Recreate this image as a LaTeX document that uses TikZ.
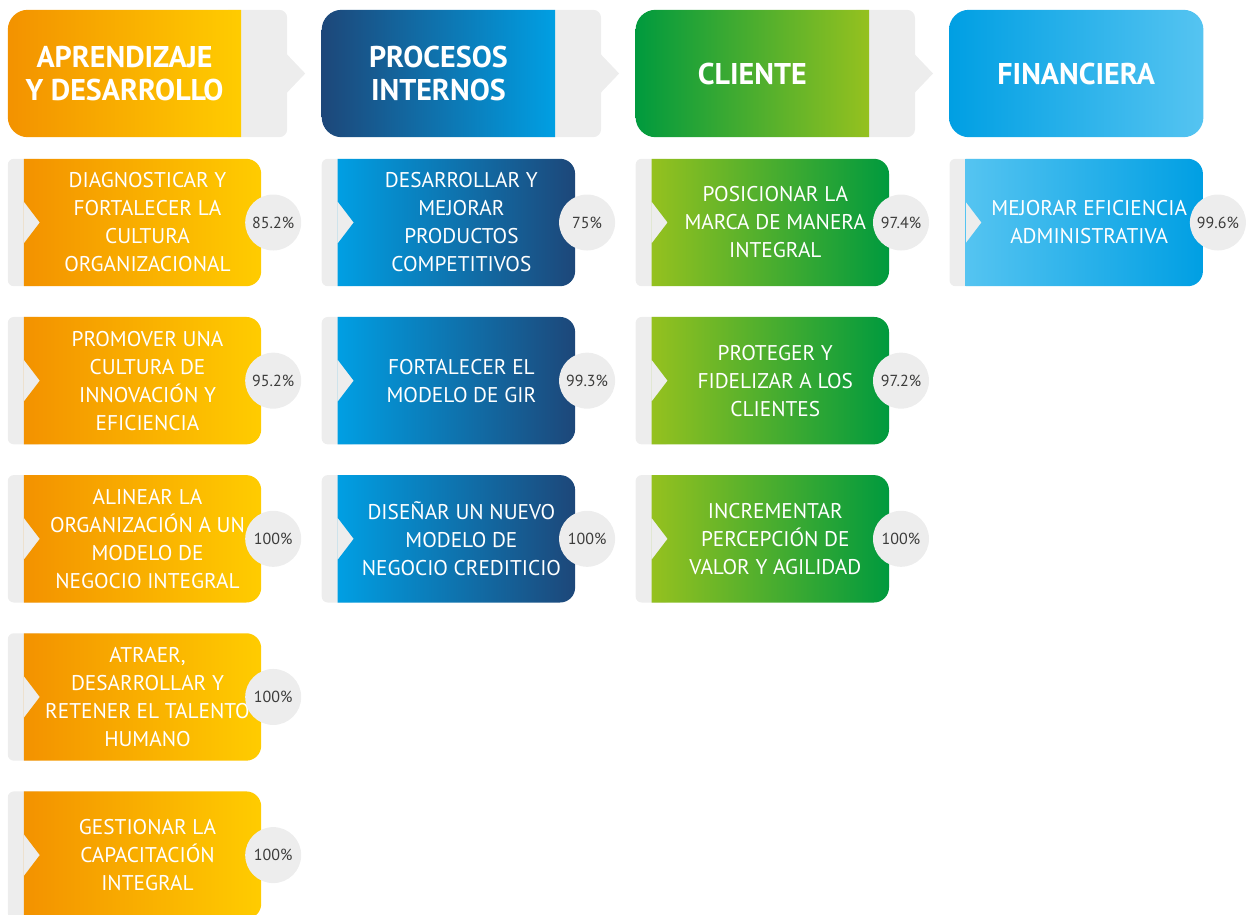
\documentclass[tikz,border=0pt]{standalone}
\usepackage{fontspec}
\setmainfont{PT Sans}
\usetikzlibrary{positioning,backgrounds}

\definecolor{orgL}{HTML}{F39200}
\definecolor{orgR}{HTML}{FFCC00}
\definecolor{navy}{HTML}{1D4779}
\definecolor{cyanB}{HTML}{009FE3}
\definecolor{grnD}{HTML}{009A3E}
\definecolor{grnL}{HTML}{95C11F}
\definecolor{skyL}{HTML}{55C4F1}
\definecolor{skyM}{HTML}{00B5EC}
\definecolor{skyD}{HTML}{009FE3}
\definecolor{greybg}{HTML}{EDEDED}
\definecolor{pctxt}{HTML}{3C3C3B}

\begin{document}
\begin{tikzpicture}[x=1pt,y=-1pt,node distance=30.75pt and 86.5pt,
    head/.style={minimum width=233pt,minimum height=127pt,inner sep=0pt,
      text=white,align=center,font=\bfseries\fontsize{30}{33}\selectfont},
    card/.style={minimum width=227pt,minimum height=127pt,inner sep=0pt,
      text=white,align=center,font=\fontsize{21.3}{28}\selectfont},
    pct/.style={circle,fill=greybg,minimum size=56pt,inner sep=0pt,
      text=pctxt,font=\fontsize{16}{16}\selectfont}]
  \useasboundingbox (0,0) rectangle (1248,914);

  % perspectivas
  \node[head] (h1) at (124.5,73.5) {APRENDIZAJE\\Y DESARROLLO};
  \node[head] (h2) [right=80.5pt of h1] {PROCESOS\\INTERNOS};
  \node[head] (h3) [right=80.5pt of h2] {CLIENTE};
  \node[head,minimum width=254pt] (h4) [right=80pt of h3] {FINANCIERA};

  % objetivos
  \node[card] (a1) at (147.5,222.5) {DIAGNOSTICAR Y\\FORTALECER LA\\CULTURA\\ORGANIZACIONAL};
  \node[card] (a2) [below=of a1] {PROMOVER UNA\\CULTURA DE\\INNOVACIÓN Y\\EFICIENCIA};
  \node[card] (a3) [below=of a2] {ALINEAR LA\\ORGANIZACIÓN A UN\\MODELO DE\\NEGOCIO INTEGRAL};
  \node[card] (a4) [below=of a3] {ATRAER,\\DESARROLLAR Y\\RETENER EL TALENTO\\HUMANO};
  \node[card] (a5) [below=of a4] {GESTIONAR LA\\CAPACITACIÓN\\INTEGRAL};
  \node[card] (b1) [right=of a1] {DESARROLLAR Y\\MEJORAR\\PRODUCTOS\\COMPETITIVOS};
  \node[card] (b2) [below=of b1] {FORTALECER EL\\MODELO DE GIR};
  \node[card] (b3) [below=of b2] {DISEÑAR UN NUEVO\\MODELO DE\\NEGOCIO CREDITICIO};
  \node[card] (c1) [right=of b1] {POSICIONAR LA\\MARCA DE MANERA\\INTEGRAL};
  \node[card] (c2) [below=of c1] {PROTEGER Y\\FIDELIZAR A LOS\\CLIENTES};
  \node[card] (c3) [below=of c2] {INCREMENTAR\\PERCEPCIÓN DE\\VALOR Y AGILIDAD};
  \node[card] (d1) [right=of c1] {MEJORAR EFICIENCIA\\ADMINISTRATIVA};

  % cumplimiento
  \node[pct] (pa1) at ([xshift=12pt]a1.east) {85.2\%};
  \node[pct] (pa2) at ([xshift=12pt]a2.east) {95.2\%};
  \node[pct] (pa3) at ([xshift=12pt]a3.east) {100\%};
  \node[pct] (pa4) at ([xshift=12pt]a4.east) {100\%};
  \node[pct] (pa5) at ([xshift=12pt]a5.east) {100\%};
  \node[pct] (pb1) at ([xshift=12pt]b1.east) {75\%};
  \node[pct] (pb2) at ([xshift=12pt]b2.east) {99.3\%};
  \node[pct] (pb3) at ([xshift=12pt]b3.east) {100\%};
  \node[pct] (pc1) at ([xshift=12pt]c1.east) {97.4\%};
  \node[pct] (pc2) at ([xshift=12pt]c2.east) {97.2\%};
  \node[pct] (pc3) at ([xshift=12pt]c3.east) {100\%};
  \node[pct] (pd1) at ([xshift=15pt]d1.east) {99.6\%};

  \begin{scope}[on background layer]
    \foreach \n/\cl/\cm/\cr in {h1/orgL/orgL!50!orgR/orgR,h2/navy/navy!50!cyanB/cyanB,
        h3/grnD/grnD/grnL} {
      \fill[greybg,rounded corners=8pt] ([xshift=-20pt]\n.north east) rectangle ([xshift=46pt]\n.south east);
      \fill[greybg] ([xshift=45pt,yshift=20pt]\n.east) -- ([xshift=64pt]\n.east)
        -- ([xshift=45pt,yshift=-20pt]\n.east) -- cycle;
      \shade[left color=\cl,middle color=\cm,right color=\cr] (\n.south east) -- (\n.north east)
        [rounded corners=20pt] -- (\n.north west) -- (\n.south west) [sharp corners] -- cycle;
    }
    \shade[left color=skyD,middle color=skyM,right color=skyL,rounded corners=20pt]
      (h4.north west) rectangle (h4.south east);
    \foreach \n/\cl/\cm/\cr in {a1/orgL/orgL!50!orgR/orgR,a2/orgL/orgL!50!orgR/orgR,
        a3/orgL/orgL!50!orgR/orgR,a4/orgL/orgL!50!orgR/orgR,a5/orgL/orgL!50!orgR/orgR,
        b1/cyanB/cyanB!50!navy/navy,b2/cyanB/cyanB!50!navy/navy,b3/cyanB/cyanB!50!navy/navy,
        c1/grnL/grnL!45!grnD/grnD,c2/grnL/grnL!45!grnD/grnD,c3/grnL/grnL!45!grnD/grnD,
        d1/skyL/skyM/skyD} {
      \fill[greybg,rounded corners=6pt] ([xshift=-26pt]\n.north west) rectangle ([xshift=10pt]\n.south west);
      \shade[left color=\cl,middle color=\cm,right color=\cr] ([xshift=-10pt]\n.south west)
        -- ([xshift=-10pt]\n.north west) [rounded corners=15pt] -- (\n.north east) -- (\n.south east)
        [sharp corners] -- ([xshift=-10pt]\n.south west) -- ([xshift=-10pt,yshift=-21pt]\n.west)
        -- ([xshift=6pt]\n.west) -- ([xshift=-10pt,yshift=21pt]\n.west) -- cycle;
    }
  \end{scope}
\end{tikzpicture}
\end{document}
